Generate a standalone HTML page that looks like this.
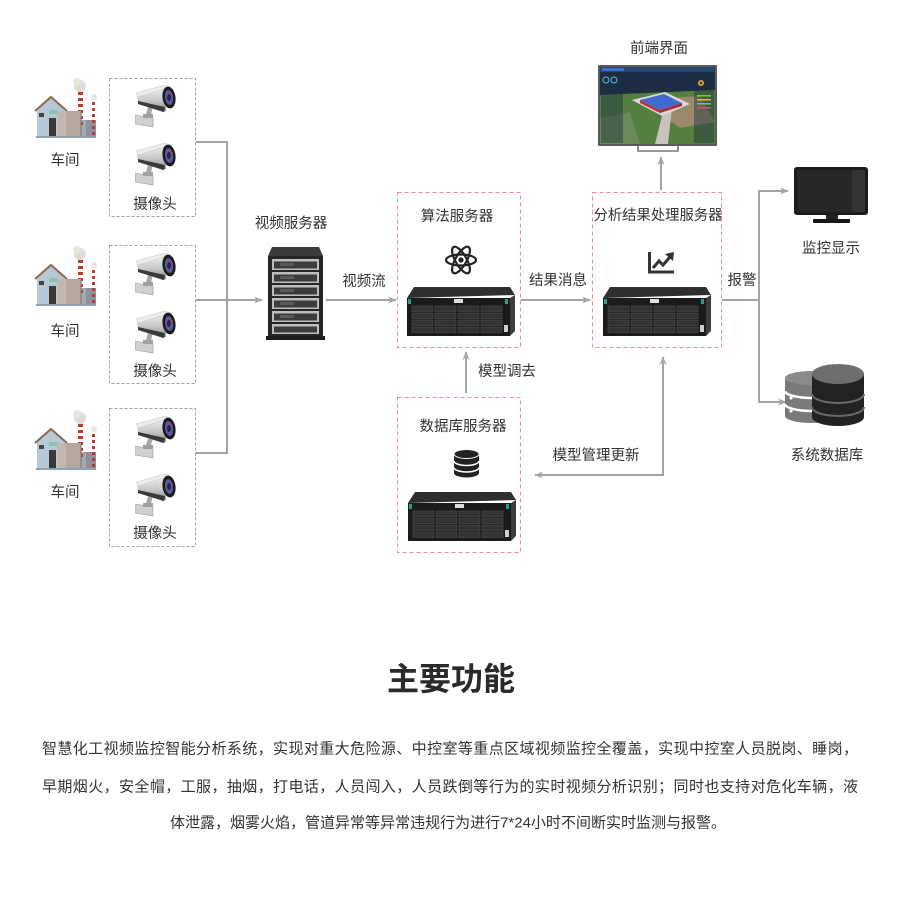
<!DOCTYPE html>
<html><head><meta charset="utf-8">
<style>
html,body{margin:0;padding:0;background:#fff;}
svg{display:block;}
text{font-family:"Liberation Sans","Noto Sans CJK SC","WenQuanYi Zen Hei",sans-serif;fill:#333;}
</style></head>
<body>
<svg width="900" height="900" viewBox="0 0 900 900" xmlns="http://www.w3.org/2000/svg">
<defs>
  <marker id="ah" viewBox="0 0 10 10" refX="9" refY="5" markerWidth="9" markerHeight="9" orient="auto" markerUnits="userSpaceOnUse">
    <path d="M0,1 L10,5 L0,9 L3,5 Z" fill="#a4a8ad"/>
  </marker>
  <linearGradient id="camg" x1="0" y1="0" x2="0" y2="1">
    <stop offset="0" stop-color="#f4f4f4"/><stop offset="0.55" stop-color="#c8c8c8"/><stop offset="1" stop-color="#8a8a8a"/>
  </linearGradient>
  <symbol id="cam" viewBox="0 0 42 44">
    <path d="M13,22 L18,22 L15,33 L10,33 Z" fill="#a8a8a8"/>
    <path d="M0,30 L18,33 L18,42 L0,39 Z" fill="#d0d0d0" stroke="#999" stroke-width="0.6"/>
    <rect x="8" y="29" width="10" height="4" fill="#a0a0a0"/>
    <path d="M2,9 L30,1 L31,26 L28,27 L3,19 Z" fill="url(#camg)"/>
    <path d="M3,16 L30,22 L29,27 L3,19 Z" fill="#3a3a3a"/>
    <path d="M1,8 L30,0 L36,2 L3,12 Z" fill="#ededed" stroke="#bbb" stroke-width="0.4"/>
    <ellipse cx="34" cy="12.5" rx="6.5" ry="11" transform="rotate(-8 34 12.5)" fill="#1c1c1c"/>
    <ellipse cx="34" cy="12.5" rx="4" ry="7.5" transform="rotate(-8 34 12.5)" fill="#5b5aa0"/>
    <ellipse cx="34" cy="12.5" rx="2" ry="3.6" fill="#26264a"/>
    <circle cx="37" cy="10" r="0.9" fill="#d04040"/>
  </symbol>
  <symbol id="srv" viewBox="0 0 108 50">
    <path d="M7,0 L103,0 L108,8 L0,11 Z" fill="#2f2f2f"/>
    <rect x="0" y="11" width="103" height="38" fill="#1b1b1b"/>
    <path d="M103,11 L108,8 L108,44 L103,49 Z" fill="#3d3d3d"/>
    <rect x="1" y="12" width="3" height="5" fill="#2a9d8f"/>
    <rect x="98" y="12" width="3" height="5" fill="#2a9d8f"/>
    <rect x="47" y="12" width="9" height="4" fill="#ddd"/>
    <g fill="#333" stroke="#555" stroke-width="0.5">
      <rect x="5" y="19" width="21" height="5.5"/><rect x="28" y="19" width="21" height="5.5"/><rect x="51" y="19" width="21" height="5.5"/><rect x="74" y="19" width="21" height="5.5"/>
      <rect x="5" y="26" width="21" height="5.5"/><rect x="28" y="26" width="21" height="5.5"/><rect x="51" y="26" width="21" height="5.5"/><rect x="74" y="26" width="21" height="5.5"/>
      <rect x="5" y="33" width="21" height="5.5"/><rect x="28" y="33" width="21" height="5.5"/><rect x="51" y="33" width="21" height="5.5"/><rect x="74" y="33" width="21" height="5.5"/>
      <rect x="5" y="40" width="21" height="5.5"/><rect x="28" y="40" width="21" height="5.5"/><rect x="51" y="40" width="21" height="5.5"/><rect x="74" y="40" width="21" height="5.5"/>
    </g>
    <rect x="97" y="38" width="4" height="7" fill="#cfcfcf"/>
  </symbol>
  <g id="fac">
    <circle cx="80" cy="86" r="6" fill="#e0dbd6"/>
    <circle cx="77" cy="82" r="4" fill="#e8e4e0"/>
    <circle cx="94" cy="97" r="3" fill="#e6e6e6"/>
    <rect x="80" y="120" width="16" height="18" fill="#a6a7b0"/>
    <path d="M86,120 L96,120 L96,138 L86,138 Z" fill="#8e909a"/>
    <g fill="#c0392b">
      <rect x="78" y="92" width="5" height="3"/><rect x="78" y="98" width="5" height="3"/><rect x="78" y="104" width="5" height="3"/><rect x="78" y="110" width="5" height="3"/><rect x="78" y="116" width="5" height="3"/><rect x="78" y="122" width="5" height="3"/>
      <rect x="92" y="102" width="3" height="3"/><rect x="92" y="108" width="3" height="3"/><rect x="92" y="114" width="3" height="3"/><rect x="92" y="120" width="3" height="3"/><rect x="92" y="126" width="3" height="3"/><rect x="92" y="132" width="3" height="3"/>
    </g>
    <path d="M37,110 L51,98 L65,110 L65,138 L37,138 Z" fill="#b7c9d6"/>
    <path d="M35,111 L51,97 L67,111" fill="none" stroke="#8a6a52" stroke-width="2"/>
    <rect x="39" y="113" width="5" height="4" fill="#444"/>
    <rect x="49" y="110" width="9" height="4" fill="#8fbfae"/>
    <rect x="49" y="118" width="7" height="20" fill="#3a3a3a"/>
    <rect x="57" y="111" width="24" height="27" fill="#b3a79f"/>
    <rect x="57" y="111" width="9" height="27" fill="#c2b7af"/>
    <line x1="81" y1="112" x2="81" y2="138" stroke="#777" stroke-width="1"/>
    <rect x="36" y="136" width="60" height="2" fill="#8ea2b2"/>
  </g>
</defs>

<!-- camera boxes -->
<g fill="none" stroke="#a0a0a0" stroke-width="1" stroke-dasharray="3,2">
  <rect x="109.5" y="78.5" width="86" height="138"/>
  <rect x="109.5" y="245.5" width="86" height="138"/>
  <rect x="109.5" y="408.5" width="86" height="138"/>
</g>
<!-- factories -->
<use href="#fac"/>
<use href="#fac" y="168"/>
<use href="#fac" y="332"/>
<!-- cameras -->
<use href="#cam" x="135" y="85" width="42" height="44"/>
<use href="#cam" x="135" y="143" width="42" height="44"/>
<use href="#cam" x="135" y="253" width="42" height="44"/>
<use href="#cam" x="135" y="311" width="42" height="44"/>
<use href="#cam" x="135" y="416" width="42" height="44"/>
<use href="#cam" x="135" y="474" width="42" height="44"/>

<g font-size="14.5" text-anchor="middle">
  <text x="65" y="165">车间</text>
  <text x="65" y="336">车间</text>
  <text x="65" y="497">车间</text>
  <text x="155" y="209">摄像头</text>
  <text x="155" y="376">摄像头</text>
  <text x="155" y="538">摄像头</text>
</g>

<!-- connectors -->
<g fill="none" stroke="#a0a4a9" stroke-width="2">
  <polyline points="196,142 227,142 227,453 196,453"/>
  <line x1="196" y1="300" x2="262" y2="300" marker-end="url(#ah)"/>
  <line x1="326" y1="300" x2="396" y2="300" marker-end="url(#ah)"/>
  <line x1="521" y1="300" x2="590" y2="300" marker-end="url(#ah)"/>
  <line x1="661" y1="190" x2="661" y2="157" marker-end="url(#ah)"/>
  <polyline points="722,300 759,300"/>
  <line x1="759" y1="191" x2="759" y2="402"/>
  <line x1="758" y1="191" x2="788" y2="191" marker-end="url(#ah)"/>
  <line x1="758" y1="402" x2="786" y2="402" marker-end="url(#ah)"/>
  <line x1="466" y1="393" x2="466" y2="352" marker-end="url(#ah)"/>
  <polyline points="663,475 535,475" marker-end="url(#ah)"/>
  <line x1="663" y1="476" x2="663" y2="357" marker-end="url(#ah)"/>
</g>

<!-- rack -->
<g>
  <path d="M272,247 L319,247 L323,256 L268,256 Z" fill="#3a3a3a"/>
  <rect x="268" y="256" width="55" height="81" fill="#262626"/>
  <g>
    <rect x="272" y="259" width="47" height="11" fill="#bdbdbd"/><rect x="274" y="261.5" width="43" height="7" fill="#3c3c3c"/><rect x="280" y="263" width="14" height="3" fill="#5a5a5a"/>
    <rect x="272" y="272" width="47" height="11" fill="#bdbdbd"/><rect x="274" y="274.5" width="43" height="7" fill="#3c3c3c"/><rect x="280" y="276" width="14" height="3" fill="#5a5a5a"/>
    <rect x="272" y="285" width="47" height="11" fill="#bdbdbd"/><rect x="274" y="287.5" width="43" height="7" fill="#3c3c3c"/><rect x="280" y="289" width="14" height="3" fill="#5a5a5a"/>
    <rect x="272" y="298" width="47" height="11" fill="#bdbdbd"/><rect x="274" y="300.5" width="43" height="7" fill="#3c3c3c"/><rect x="280" y="302" width="14" height="3" fill="#5a5a5a"/>
    <rect x="272" y="311" width="47" height="11" fill="#bdbdbd"/><rect x="274" y="313.5" width="43" height="7" fill="#3c3c3c"/><rect x="280" y="315" width="14" height="3" fill="#5a5a5a"/>
    <rect x="272" y="324" width="47" height="10" fill="#bdbdbd"/><rect x="274" y="326.5" width="43" height="6" fill="#3c3c3c"/>
  </g>
  <rect x="266" y="336" width="59" height="4" fill="#1e1e1e"/>
</g>

<!-- pink boxes -->
<g fill="none" stroke="#f08a98" stroke-width="1" stroke-dasharray="4,3">
  <rect x="397.5" y="192.5" width="123" height="155"/>
  <rect x="592.5" y="192.5" width="129" height="155"/>
  <rect x="397.5" y="397.5" width="123" height="155"/>
</g>

<!-- servers -->
<use href="#srv" x="407" y="287" width="108" height="50"/>
<use href="#srv" x="603" y="287" width="108" height="50"/>
<use href="#srv" x="408" y="492" width="108" height="50"/>

<!-- atom -->
<g fill="none" stroke="#222" stroke-width="2.2">
  <ellipse cx="461" cy="260" rx="15" ry="5.5"/>
  <ellipse cx="461" cy="260" rx="15" ry="5.5" transform="rotate(60 461 260)"/>
  <ellipse cx="461" cy="260" rx="15" ry="5.5" transform="rotate(-60 461 260)"/>
</g>
<circle cx="461" cy="260" r="2.6" fill="#222"/>

<!-- chart -->
<path d="M649.5,252 L649.5,272 L674,272" fill="none" stroke="#333" stroke-width="3"/>
<path d="M653,268 L659,261 L663,265 L670,257" fill="none" stroke="#333" stroke-width="3"/>
<path d="M665,254 L674,252 L673,261 Z" fill="#333"/>

<!-- db small stack -->
<g>
  <rect x="454" y="454" width="25" height="19" fill="#222"/>
  <ellipse cx="466.5" cy="473" rx="12.5" ry="4.5" fill="#222"/>
  <ellipse cx="466.5" cy="454" rx="12.5" ry="4.5" fill="#222" stroke="#fff" stroke-width="1"/>
  <path d="M454,461 A12.5,4.5 0 0 0 479,461" fill="none" stroke="#fff" stroke-width="1.6"/>
  <path d="M454,467.5 A12.5,4.5 0 0 0 479,467.5" fill="none" stroke="#fff" stroke-width="1.6"/>
</g>

<!-- front-end monitor -->
<g>
  <rect x="598" y="65" width="119" height="81" fill="#5a5a5a" rx="1"/>
  <rect x="600" y="67" width="115" height="77" fill="#4a7a3c"/>
  <rect x="600" y="67" width="115" height="28" fill="#1d2d45"/>
  <rect x="600" y="67" width="115" height="5" fill="#2a4570"/>
  <rect x="602" y="68" width="22" height="3" fill="#3d6fd0"/>
  <path d="M600,95 L715,90 L715,144 L600,144 Z" fill="#557f3e"/>
  <path d="M640,100 L700,96 L715,122 L680,128 Z" fill="#9a8a6a"/>
  <path d="M600,118 L630,112 L640,144 L600,144 Z" fill="#6a8a5a"/>
  <path d="M655,144 L664,108 L672,108 L668,144 Z" fill="#c8c4bc"/>
  <path d="M632,100 L665,92 L690,104 L662,116 Z" fill="#d8d8d8"/>
  <path d="M640,100 L664,94 L682,103 L660,110 Z" fill="#3f6ad2"/>
  <path d="M640,100 L660,110 L660,113 L640,103 Z" fill="#c0303a"/>
  <path d="M660,110 L682,103 L682,106 L660,113 Z" fill="#b02a30"/>
  <rect x="601" y="73" width="22" height="70" fill="#1e3040" opacity="0.45"/>
  <circle cx="606" cy="80" r="3" fill="none" stroke="#4fc3e0" stroke-width="1"/>
  <circle cx="614" cy="80" r="3" fill="none" stroke="#4fc3e0" stroke-width="1"/>
  <rect x="694" y="73" width="20" height="70" fill="#1e3040" opacity="0.45"/>
  <circle cx="701" cy="83" r="3" fill="#e8a030"/>
  <circle cx="701" cy="83" r="1.3" fill="#2a3a50"/>
  <rect x="697" y="95" width="14" height="1.5" fill="#7ac070"/>
  <rect x="697" y="99" width="14" height="1.5" fill="#e0c040"/>
  <rect x="697" y="103" width="14" height="1.5" fill="#7ac070"/>
  <rect x="697" y="107" width="14" height="1.5" fill="#c06060"/>
  <rect x="637" y="146" width="2" height="6" fill="#888"/>
  <rect x="677" y="146" width="2" height="6" fill="#888"/>
  <rect x="637" y="150" width="42" height="2" fill="#999"/>
</g>

<!-- black monitor -->
<g>
  <rect x="794" y="167" width="74" height="48" rx="3" fill="#1b1b1b"/>
  <rect x="797" y="170" width="68" height="42" fill="#272727"/>
  <rect x="852" y="170" width="13" height="42" fill="#343434"/>
  <rect x="826" y="215" width="12" height="4" fill="#222"/>
  <rect x="813" y="219" width="37" height="4" rx="1" fill="#161616"/>
</g>

<!-- system database icon -->
<g>
  <rect x="785" y="378" width="54" height="38" fill="#7a7a7a"/>
  <ellipse cx="812" cy="416" rx="27" ry="7" fill="#7a7a7a"/>
  <ellipse cx="812" cy="378" rx="27" ry="7" fill="#8a8a8a"/>
  <path d="M785,391 A27,7 0 0 0 839,391" fill="none" stroke="#fff" stroke-width="2.5"/>
  <path d="M785,404 A27,7 0 0 0 839,404" fill="none" stroke="#fff" stroke-width="2.5"/>
  <circle cx="791" cy="398" r="1.6" fill="#fff"/>
  <circle cx="791" cy="411" r="1.6" fill="#fff"/>
  <rect x="812" y="374" width="52" height="43" fill="#222"/>
  <ellipse cx="838" cy="417" rx="26" ry="9" fill="#222"/>
  <ellipse cx="838" cy="374" rx="26" ry="10" fill="#6e6e6e"/>
  <path d="M812,394 A26,9 0 0 0 864,394" fill="none" stroke="#6a6a6a" stroke-width="2"/>
  <path d="M812,407 A26,9 0 0 0 864,407" fill="none" stroke="#6a6a6a" stroke-width="2"/>
</g>

<!-- labels -->
<g font-size="14.5" text-anchor="middle">
  <text x="291" y="228">视频服务器</text>
  <text x="364" y="286">视频流</text>
  <text x="457" y="221">算法服务器</text>
  <text x="558" y="285">结果消息</text>
  <text x="658" y="220" textLength="129" lengthAdjust="spacingAndGlyphs">分析结果处理服务器</text>
  <text x="742" y="285">报警</text>
  <text x="659" y="53">前端界面</text>
  <text x="831" y="253">监控显示</text>
  <text x="507" y="376">模型调去</text>
  <text x="463" y="431">数据库服务器</text>
  <text x="596" y="460">模型管理更新</text>
  <text x="827" y="460">系统数据库</text>
</g>

<!-- bottom -->
<text x="451" y="690" font-size="32" font-weight="bold" text-anchor="middle" style="fill:#2a2a2a">主要功能</text>
<g font-size="15" text-anchor="middle" style="fill:#555">
  <text x="450" y="753.5" textLength="816" lengthAdjust="spacing">智慧化工视频监控智能分析系统，实现对重大危险源、中控室等重点区域视频监控全覆盖，实现中控室人员脱岗、睡岗，</text>
  <text x="450" y="791.5" textLength="816" lengthAdjust="spacing">早期烟火，安全帽，工服，抽烟，打电话，人员闯入，人员跌倒等行为的实时视频分析识别；同时也支持对危化车辆，液</text>
  <text x="448" y="827.5" textLength="556" lengthAdjust="spacing">体泄露，烟雾火焰，管道异常等异常违规行为进行7*24小时不间断实时监测与报警。</text>
</g>
</svg>
</body></html>
